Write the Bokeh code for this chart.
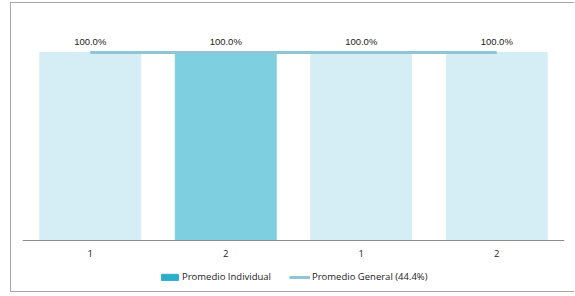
from bokeh.plotting import figure
from bokeh.models import ColumnDataSource, LabelSet, Legend, LegendItem, Range1d, Span
from bokeh.core.properties import value
from bokeh.embed import file_html
from bokeh.resources import INLINE

# ---- data ----
categories = ["1", "2", "1", "2"]
individual = [100.0, 100.0, 100.0, 100.0]
general = [100.0, 100.0, 100.0, 100.0]
labels = ["100.0%", "100.0%", "100.0%", "100.0%"]
highlight = [False, True, False, False]
legend_individual = "Promedio Individual"
legend_general = "Promedio General (44.4%)"

xs = list(range(len(categories)))
light = "#D5EEF5"
strong = "#7ECFE0"
colors = [strong if h else light for h in highlight]

src = ColumnDataSource(dict(x=xs, top=individual, color=colors, label=labels,
                            gen=general, cat=categories, base=[0.0] * len(xs)))

p = figure(width=564, height=290, output_backend="svg", toolbar_location=None,
           x_range=Range1d(-0.5, len(xs) - 0.5), y_range=Range1d(-28.2, 118.1),
           min_border_left=11, min_border_right=11, min_border_top=15, min_border_bottom=0)
p.styles = {"margin-top": "2px", "margin-left": "10px",
            "border-left": "1px solid #a6a6a6", "border-top": "1px solid #a6a6a6",
            "border-bottom": "1px solid #a6a6a6"}
p.outline_line_color = None
p.xgrid.visible = False
p.ygrid.visible = False
p.xaxis.visible = False
p.yaxis.visible = False

p.vbar(x="x", top="top", width=0.745, color="color", source=src)
line_r = p.line(x="x", y="gen", line_color="#90C4D7", line_width=3, source=src)
ind_r = p.vbar(x=[0.0], top=[0.0], width=0.0, color="#2AAECB")

p.add_layout(Span(location=0, dimension="width", line_color="#8c8c8c", line_width=1))

lbls = LabelSet(x="x", y="top", text="label", source=src, text_align="center",
                text_baseline="bottom", y_offset=6, text_font=value("Liberation Sans"),
                text_font_size="9.5px", text_color="#222222")
p.add_layout(lbls)

ticks = LabelSet(x="x", y="base", text="cat", source=src, text_align="center",
                 text_baseline="middle", y_offset=-13, text_font=value("Open Sans"),
                 text_font_size="9.5px", text_color="#222222")
p.add_layout(ticks)

legend = Legend(items=[LegendItem(label=legend_individual, renderers=[ind_r]),
                       LegendItem(label=legend_general, renderers=[line_r])],
                orientation="horizontal", location=(137, 10),
                glyph_width=21, glyph_height=8, label_height=12, label_standoff=2,
                spacing=18, margin=0, padding=0,
                label_text_font="Open Sans", label_text_font_size="9.5px",
                label_text_color="#222222",
                border_line_color=None, background_fill_alpha=0)
p.add_layout(legend)

open("out.html", "w").write(file_html(p, INLINE))
